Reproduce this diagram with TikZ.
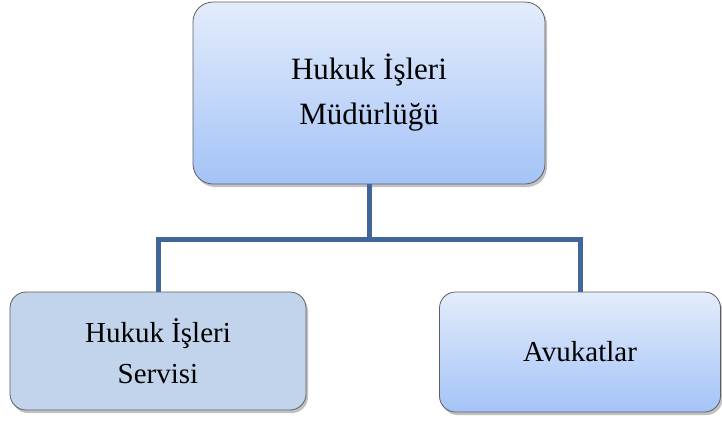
\documentclass[tikz,border=0pt]{standalone}
\usepackage{fontspec}
\setmainfont{Liberation Serif}
\usetikzlibrary{shadows}
\definecolor{lineblue}{HTML}{41679A}
\definecolor{gtop}{HTML}{E3ECFB}
\definecolor{gbot}{HTML}{A4C3F7}
\definecolor{plainfill}{HTML}{C2D4EB}
\definecolor{borderc}{HTML}{5E5E5E}
\tikzset{
  box/.style={draw=borderc, line width=0.8pt, rounded corners=16pt, align=center,
    inner sep=0pt, font=\fontsize{29}{41}\selectfont,
    drop shadow={shadow xshift=2pt, shadow yshift=-3pt, opacity=0.35, fill=black!70}},
  gradbox/.style={box, top color=gtop, bottom color=gbot},
  plainbox/.style={box, fill=plainfill},
  conn/.style={draw=lineblue, line width=5pt}
}
\begin{document}
\begin{tikzpicture}[x=1pt,y=-1pt]
\useasboundingbox (0,0) rectangle (722,421);
\node[gradbox, minimum width=352pt, minimum height=182pt, rounded corners=20pt,
  font=\fontsize{31}{45}\selectfont] (top) at (369,93) {Hukuk İşleri\\Müdürlüğü};
\node[plainbox, minimum width=296pt, minimum height=118pt] (left) at (158,351) {Hukuk İşleri\\Servisi};
\node[gradbox, minimum width=281pt, minimum height=120pt] (right) at (580,352) {Avukatlar};
\coordinate (bus) at (369,239);
\draw[conn] (top.south) -- (bus);
\draw[conn] (left.north) |- (bus) -| (right.north);
\end{tikzpicture}
\end{document}
